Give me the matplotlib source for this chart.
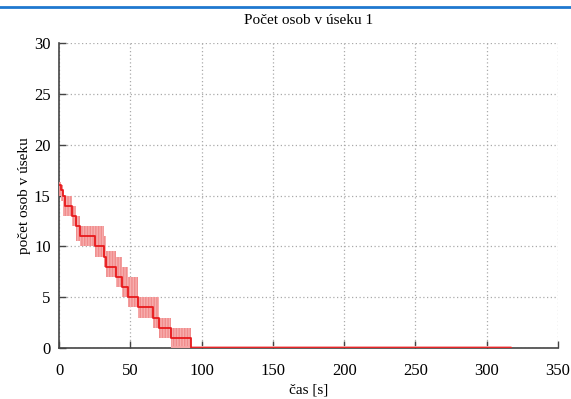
import numpy as np
import matplotlib
matplotlib.use("Agg")
import matplotlib.pyplot as plt
from matplotlib.lines import Line2D

# step data: time [s] where each level starts, mean count, min/max band
t_steps = [0, 1.2, 2.6, 4.2, 8.9, 12.0, 14.8, 25.3, 31.6, 33.3, 40.3, 44.2, 48.2, 55.5, 66.0, 70.0, 78.5, 92.3, 317]
mean_cnt = [16, 15.5, 15, 14, 13, 12, 11, 10, 9, 8, 7, 6, 5, 4, 3, 2, 1, 0, 0]
upper_cnt = [16.3, 16, 15, 15, 14, 13, 12, 12, 11, 9.5, 9, 8, 7, 5, 5, 3, 2, 0, 0]
lower_cnt = [15, 14.5, 13, 13, 12, 10.5, 10, 9, 8, 7, 6, 5, 4, 3, 2, 1, 0, 0, 0]
band_end = 95

x_ticks = [0, 50, 100, 150, 200, 250, 300, 350]
y_ticks = [0, 5, 10, 15, 20, 25, 30]

plt.rcParams['font.family'] = ['Liberation Serif', 'DejaVu Serif']

fig = plt.figure(figsize=(5.71, 3.99), dpi=100)
ax = fig.add_axes([59 / 571, 51 / 399, 499 / 571, 305 / 399])

# light band (min/max)
t_band = [t for t in t_steps if t <= band_end] + [band_end]
n = len(t_band) - 1
up = upper_cnt[:n] + [upper_cnt[n - 1]]
lo = lower_cnt[:n] + [lower_cnt[n - 1]]
ax.fill_between(t_band, lo, up, step='post', facecolor='#f7aeae',
                edgecolor='#f08c8c', hatch='||||||', linewidth=0, zorder=2)
ax.plot([t_steps[-3], t_steps[-1]], [0, 0], color='#f6a3a3', lw=3.5,
        zorder=2, solid_capstyle='butt')

# mean
ax.step(t_steps, mean_cnt, where='post', color='#e8191c', lw=1.3, zorder=3)

ax.set_xlim(0, 350)
ax.set_ylim(0, 30)
ax.set_xticks(x_ticks)
ax.set_yticks(y_ticks)
ax.tick_params(direction='in', length=5, width=1, color='#444444',
               labelsize=12)
ax.tick_params(axis='x', pad=11)
ax.tick_params(axis='y', pad=6)
ax.grid(True, linestyle=(0, (1, 2)), color='#aaaaaa', lw=0.9)
ax.set_axisbelow(True)
for s in ['top', 'right']:
    ax.spines[s].set_visible(False)
for s in ['left', 'bottom']:
    ax.spines[s].set_color('#444444')
    ax.spines[s].set_linewidth(1.2)
    ax.spines[s].set_zorder(1)

ax.set_title('Počet osob v úseku 1', fontsize=11, pad=14)
ax.set_xlabel('čas [s]', fontsize=11, labelpad=3)
ax.set_ylabel('počet osob v úseku', fontsize=11, labelpad=2)

# blue line at top of the page
fig.add_artist(Line2D([0, 1], [1 - 6.5 / 399, 1 - 6.5 / 399],
                      transform=fig.transFigure, color='#1f78cf', lw=2))

fig.savefig('out.png', dpi=100)
